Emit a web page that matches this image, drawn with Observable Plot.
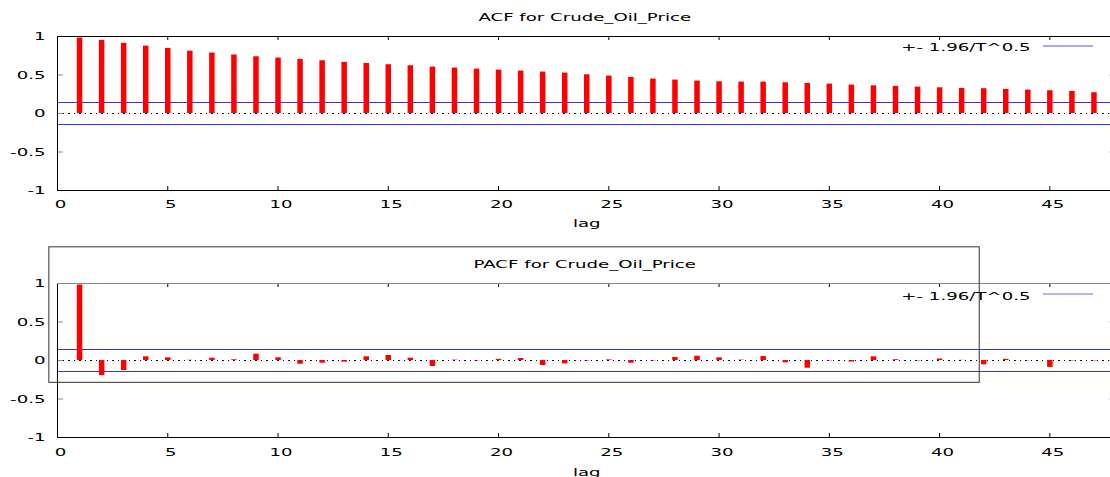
<!DOCTYPE html>
<html><head><meta charset="utf-8">
<script src="https://cdn.jsdelivr.net/npm/d3@7"></script>
<script src="https://cdn.jsdelivr.net/npm/@observablehq/plot@0.6"></script>
<style>body{margin:0;background:#fff;} svg{display:block;}</style>
</head><body><div id="chart"></div>
<script>
const lags = [1,2,3,4,5,6,7,8,9,10,11,12,13,14,15,16,17,18,19,20,21,22,23,24,25,26,27,28,29,30,31,32,33,34,35,36,37,38,39,40,41,42,43,44,45,46,47];
const acf = [0.98,0.95,0.91,0.875,0.845,0.81,0.785,0.76,0.737,0.72,0.703,0.685,0.664,0.65,0.633,0.62,0.603,0.59,0.577,0.564,0.551,0.538,0.525,0.503,0.486,0.469,0.447,0.434,0.421,0.412,0.408,0.408,0.399,0.391,0.382,0.369,0.36,0.352,0.343,0.334,0.326,0.322,0.313,0.304,0.296,0.287,0.27];
const pacf = [0.98,-0.195,-0.13,0.048,0.035,0.003,0.03,0.01,0.082,0.035,-0.048,-0.035,-0.022,0.048,0.065,0.03,-0.078,0.005,-0.005,0.015,0.026,-0.065,-0.043,-0.005,0.008,-0.035,-0.005,0.039,0.056,0.035,0.005,0.052,-0.03,-0.1,-0.005,-0.02,0.048,0.01,-0.005,0.02,0.002,-0.056,0.015,-0.003,-0.09,-0.005,-0.005];
const band = 0.147;
const xTicks = [0,5,10,15,20,25,30,35,40,45];
const yTicks = [-1,-0.5,0,0.5,1];
const xMax = 48;
const titles = ["ACF for Crude_Oil_Price", "PACF for Crude_Oil_Price"];
const xLabel = "lag";
const legendLabel = "+- 1.96/T^0.5";
const keyBox = [{x1: -0.37, x2: 41.82, y1: -0.29, y2: 1.47}];

const W = 1110, ML = 57, MR = -5.5;
const FONT = "DejaVu Sans";
const FS = 11;
const SX = 1.65;

function panel(values, title, o) {
  const data = lags.map((l, i) => ({lag: l, v: values[i]}));
  const pxX = (W - ML - MR) / xMax;
  const pxY = (o.height - o.marginTop - o.marginBottom) / 2;
  const tx = 4 / pxY, ty = 6 / pxX;
  const marks = [
    Plot.ruleY([band, -band], {stroke: "#3636e0", strokeWidth: 1, shapeRendering: "crispEdges"}),
    Plot.ruleY([0], {stroke: "#000", strokeDasharray: "1.5,4", shapeRendering: "crispEdges"}),
    Plot.ruleX(data, {x: "lag", y1: 0, y2: "v", stroke: "#ff0000", strokeWidth: 5.5}),
    // ticks
    Plot.ruleX(xTicks, {x: d => d, y1: -1, y2: -1 + tx, stroke: "#000"}),
    Plot.ruleX(xTicks, {x: d => d, y1: 1, y2: 1 - tx, stroke: "#000"}),
    Plot.ruleY(yTicks, {y: d => d, x1: 0, x2: ty, stroke: "#888"}),
    Plot.ruleY(yTicks, {y: d => d, x1: xMax - ty, x2: xMax, stroke: "#888"}),
    // border
    Plot.ruleX([0], {stroke: "#000"}),
    Plot.ruleX([xMax], {stroke: "#000"}),
    Plot.ruleY([-1], {stroke: "#000"}),
    Plot.ruleY([1], {stroke: o.topColor}),
    // labels
    Plot.text(xTicks, {x: d => d, text: d => String(d), frameAnchor: "bottom", lineAnchor: "top", dy: o.tickDy, dx: 3, fontSize: FS, fill: "#000"}),
    Plot.text(yTicks, {y: d => d, text: d => String(d), frameAnchor: "left", textAnchor: "end", dx: -12, fontSize: FS, fill: "#000"}),
    Plot.text([title], {frameAnchor: "top", lineAnchor: "bottom", dy: -16, dx: -2, fontSize: FS, fill: "#000"}),
    Plot.text([xLabel], {frameAnchor: "bottom", lineAnchor: "bottom", dy: o.lagDy, fontSize: FS, fill: "#000"}),
    Plot.text([legendLabel], {frameAnchor: "top-right", textAnchor: "end", lineAnchor: "bottom", dx: -85.5, dy: o.legDy, fontSize: FS, fill: "#000"})
  ];
  if (o.box) marks.push(Plot.rect(keyBox, {x1: "x1", x2: "x2", y1: "y1", y2: "y2", fill: "none", stroke: "#333"}));
  const svg = Plot.plot({
    width: W, height: o.height,
    marginLeft: ML, marginRight: MR, marginTop: o.marginTop, marginBottom: o.marginBottom,
    x: {domain: [0, xMax], axis: null},
    y: {domain: [-1, 1], axis: null},
    style: {fontFamily: FONT, fontSize: FS + "px", background: "#fff", overflow: "hidden"},
    marks
  });
  svg.querySelectorAll("text").forEach(t => {
    const tr = t.getAttribute("transform");
    if (tr && tr.includes("translate")) t.setAttribute("transform", tr + ` scale(${SX},1)`);
  });
  const fr = W - MR;
  d3.select(svg).append("line")
    .attr("x1", fr - 72.5).attr("x2", fr - 22.5)
    .attr("y1", o.marginTop + o.legLineY).attr("y2", o.marginTop + o.legLineY)
    .attr("stroke", o.legColor).attr("stroke-width", o.legWidth);
  return svg;
}

const root = document.getElementById("chart");
root.appendChild(panel(acf, titles[0], {height: 238, marginTop: 36, marginBottom: 48, tickDy: 10, lagDy: 36, legDy: 14.7, legLineY: 10, legColor: "#5050ec", legWidth: 1, topColor: "#000", box: false}));
root.appendChild(panel(pacf, titles[1], {height: 239, marginTop: 45, marginBottom: 40, tickDy: 11, lagDy: 38, legDy: 16, legLineY: 11, legColor: "#9a9af2", legWidth: 1.5, topColor: "#888", box: true}));
</script></body></html>
